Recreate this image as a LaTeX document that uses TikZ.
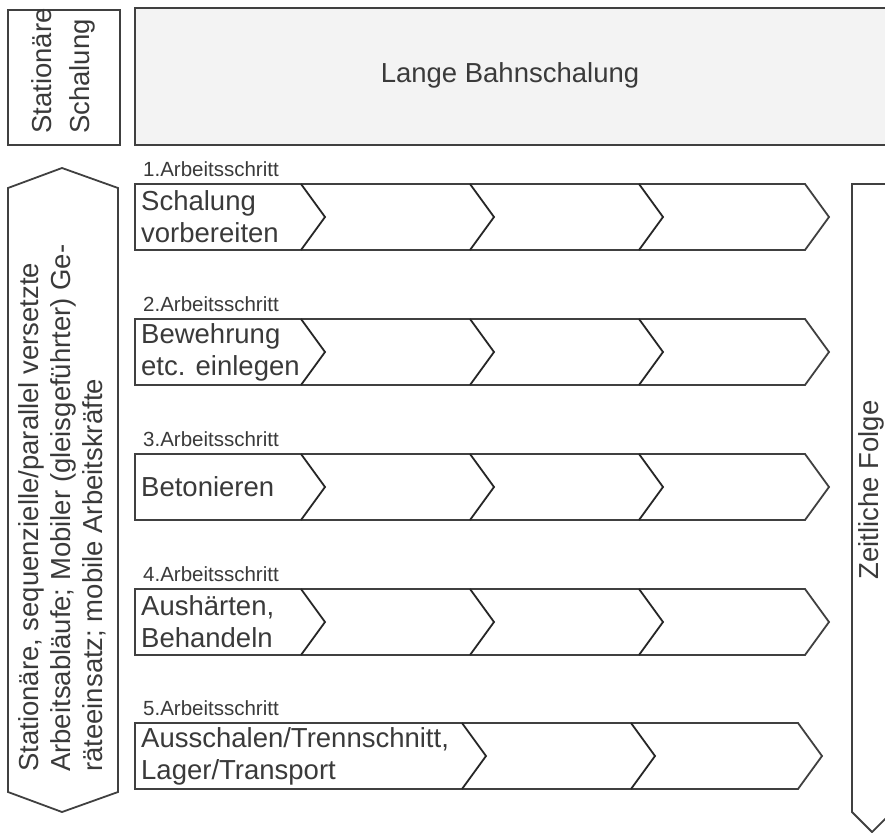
\documentclass[tikz,border=0pt]{standalone}
\usepackage{fontspec}
\setmainfont{Liberation Sans}
\definecolor{txt}{HTML}{3A3A3A}
\definecolor{ln}{HTML}{404040}
\definecolor{fillg}{HTML}{F3F3F3}
\newcommand\myrow[4]{%
  \draw[outl] (135,#1) -- (805,#1) -- (829,#1+33) -- (805,#1+66) -- (135,#1+66) -- cycle;
  \foreach \n in {301,470,639} \draw[innerchev] (\n,#1) -- (\n+24,#1+33) -- (\n,#1+66);
  \node[big, align=left, anchor=west] (#2) at (141,#1+33) {#4};
  \node[lbl] (#2l) at (143,#1-8) {#3};
}
\begin{document}
\begin{tikzpicture}[x=1pt,y=-1pt,
  outl/.style={draw=ln, line width=1.8pt, line join=miter},
  innerchev/.style={draw=black!85, line width=1.8pt},
  big/.style={font=\fontsize{27.5}{32}\selectfont, text=txt, inner sep=0pt},
  lbl/.style={font=\fontsize{20.5}{24}\selectfont, text=txt, inner sep=0pt, anchor=base west}]
\path[use as bounding box] (0,0) rectangle (885,832);
\clip (0,0) rectangle (885,832);
\fill[white] (0,0) rectangle (885,832);

% top row
\draw[outl] (8,10) rectangle (120,145);
\node[big, rotate=90, align=left, anchor=west, font=\fontsize{27.5}{38}\selectfont] (stat) at (63,134) {Stationäre\\Schalung};
\draw[outl, fill=fillg] (135,8) rectangle (900,145);
\node[big] (lange) at (510,75) {Lange Bahnschalung};

% left arrow
\draw[outl] (8,188) -- (62,168) -- (118,188) -- (118,792) -- (62,812) -- (8,792) -- cycle;
\node[big, rotate=90, align=left, anchor=west] (left) at (62,772)
  {Stationäre, sequenzielle/parallel versetzte\\Arbeitsabläufe; Mobiler (gleisgeführter) Ge-\\räteeinsatz; mobile Arbeitskräfte};

% right arrow
\draw[outl] (900,184) -- (852,184) -- (852,812) -- (872,832) -- (892,812);
\node[big, rotate=90] (zeit) at (871,490) {Zeitliche Folge};

% rows
\myrow{184}{s1}{1.Arbeitsschritt}{Schalung\\vorbereiten}
\myrow{319}{s2}{2.Arbeitsschritt}{Bewehrung\\etc. einlegen}
\myrow{454}{s3}{3.Arbeitsschritt}{Betonieren}
\myrow{589}{s4}{4.Arbeitsschritt}{Aushärten,\\Behandeln}

% row 5
\draw[outl] (135,723) -- (798,723) -- (822,756) -- (798,789) -- (135,789) -- cycle;
\foreach \n in {462,631} \draw[innerchev] (\n,723) -- (\n+24,756) -- (\n,789);
\node[big, align=left, anchor=west] (s5) at (141,756) {Ausschalen/Trennschnitt,\\Lager/Transport};
\node[lbl] (s5l) at (143,715) {5.Arbeitsschritt};
\end{tikzpicture}
\end{document}
